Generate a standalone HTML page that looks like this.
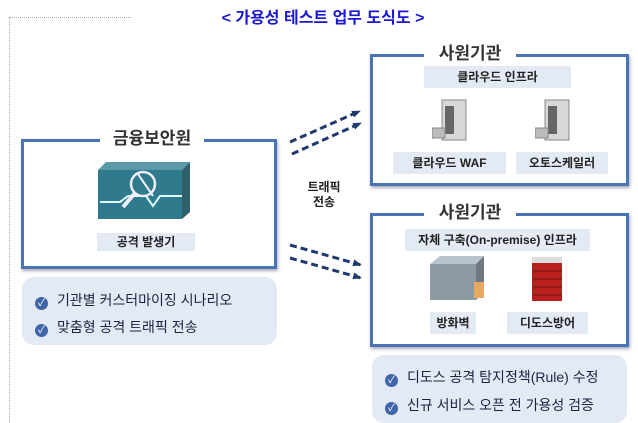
<!DOCTYPE html>
<html><head><meta charset="utf-8"><style>
body{margin:0;width:638px;height:423px;background:#fff;position:relative;overflow:hidden;font-family:"Liberation Sans","Noto Sans CJK KR",sans-serif;}
.a{position:absolute;}
.box{position:absolute;border:3px solid #4a74b4;box-shadow:1px 2px 3px #aab;}
.ttl{position:absolute;background:#fff;font-size:17px;color:#333;text-align:center;line-height:20px;font-weight:bold;}
.lbl{position:absolute;background:#e3eaf4;font-size:12px;font-weight:bold;color:#222;text-align:center;}
.bul{position:absolute;background:#e3eaf5;border-radius:12px;}
.bi{position:absolute;font-size:14px;color:#1a2440;}
.ck{display:inline-block;width:13px;height:13px;border-radius:50%;background:#3f66a8;color:#fff;font-size:10px;line-height:13px;text-align:center;margin-right:9px;vertical-align:-1px;}
</style></head><body>
<div class="a" style="left:9px;top:17px;width:122px;border-top:1px dotted #aaa"></div>
<div class="a" style="left:9px;top:17px;height:406px;border-left:1px dotted #aaa"></div>
<div class="a" style="left:0;width:646px;top:9px;text-align:center;font-size:16px;font-weight:bold;color:#1a1acc;line-height:20px">&lt; 가용성 테스트 업무 도식도 &gt;</div>

<div class="box" style="left:21px;top:139px;width:250px;height:124px"></div>
<div class="ttl" style="left:100px;top:129px;width:104px">금융보안원</div>
<svg class="a" style="left:98px;top:162px" width="96" height="60"><polygon points="0,8 8,0 92,0 84,8" fill="#5a99a8"/><polygon points="84,8 92,0 92,50 84,57" fill="#2f5f6a"/><rect x="0" y="8" width="84" height="49" fill="#2f7a8c"/><polyline points="2,40 22,40 30,34 48,34 55,44 62,34 84,34" fill="none" stroke="#dff" stroke-width="2"/><circle cx="45" cy="22" r="12" fill="none" stroke="#eef" stroke-width="2.5"/><line x1="37" y1="31" x2="25" y2="45" stroke="#eef" stroke-width="4"/><line x1="40" y1="12" x2="55" y2="34" stroke="#eef" stroke-width="2"/></svg>
<div class="lbl" style="left:97px;top:233px;width:98px;height:18px;line-height:18px">공격 발생기</div>

<div class="bul" style="left:22px;top:277px;width:255px;height:68px"></div>
<div class="bi" style="left:35px;top:290px"><span class="ck">✓</span>기관별 커스터마이징 시나리오</div>
<div class="bi" style="left:35px;top:317px"><span class="ck">✓</span>맞춤형 공격 트래픽 전송</div>

<svg class="a" style="left:0;top:0" width="638" height="423">
<defs><marker id="m" markerUnits="userSpaceOnUse" markerWidth="9" markerHeight="7" refX="8" refY="3.5" orient="auto"><path d="M0,0 L9,3.5 L0,7z" fill="#1f3a6e"/></marker></defs>
<g stroke="#1f3a6e" stroke-width="3" stroke-dasharray="7,4" marker-end="url(#m)">
<line x1="290" y1="142" x2="360" y2="111"/><line x1="292" y1="154" x2="361" y2="123"/>
<line x1="290" y1="245" x2="361" y2="265"/><line x1="290" y1="258" x2="361" y2="278"/>
</g></svg>
<div class="a" style="left:293px;top:180px;width:62px;text-align:center;font-size:12px;font-weight:bold;line-height:15px;color:#222">트래픽<br>전송</div>

<div class="box" style="left:370px;top:54px;width:253px;height:126px"></div>
<div class="ttl" style="left:424px;top:44px;width:92px">사원기관</div>
<div class="lbl" style="left:424px;top:66px;width:147px;height:22px;line-height:22px">클라우드 인프라</div>
<svg class="a" style="left:432px;top:98px" width="48" height="44"><rect x="10" y="2" width="24" height="40" fill="#d8d8d8" stroke="#888"/><rect x="13" y="8" width="9" height="28" fill="#666"/><rect x="0" y="30" width="13" height="10" fill="#bbb" stroke="#888"/></svg>
<svg class="a" style="left:535px;top:98px" width="48" height="44"><rect x="10" y="2" width="24" height="40" fill="#d8d8d8" stroke="#888"/><rect x="13" y="8" width="9" height="28" fill="#666"/><rect x="0" y="30" width="13" height="10" fill="#bbb" stroke="#888"/></svg>
<div class="lbl" style="left:393px;top:152px;width:113px;height:22px;line-height:22px">클라우드 WAF</div>
<div class="lbl" style="left:516px;top:152px;width:92px;height:22px;line-height:22px">오토스케일러</div>

<div class="box" style="left:370px;top:213px;width:253px;height:128px"></div>
<div class="ttl" style="left:424px;top:203px;width:92px">사원기관</div>
<div class="lbl" style="left:405px;top:229px;width:185px;height:22px;line-height:22px">자체 구축(On-premise) 인프라</div>
<svg class="a" style="left:430px;top:256px" width="60" height="46"><polygon points="0,8 10,0 54,0 46,8" fill="#b8c4cc"/><polygon points="46,8 54,0 54,36 46,44" fill="#6d7a84"/><rect x="0" y="8" width="46" height="36" fill="#8c9aa4"/><rect x="44" y="26" width="10" height="16" fill="#e8a860"/></svg>
<svg class="a" style="left:528px;top:257px" width="40" height="46"><rect x="4" y="0" width="30" height="6" fill="#ddd"/><rect x="4" y="6" width="30" height="38" fill="#b82020"/><g stroke="#7a1010"><line x1="4" y1="14" x2="34" y2="14"/><line x1="4" y1="22" x2="34" y2="22"/><line x1="4" y1="30" x2="34" y2="30"/><line x1="4" y1="38" x2="34" y2="38"/></g></svg>
<div class="lbl" style="left:430px;top:312px;width:46px;height:22px;line-height:22px">방화벽</div>
<div class="lbl" style="left:507px;top:312px;width:81px;height:22px;line-height:22px">디도스방어</div>

<div class="bul" style="left:372px;top:355px;width:255px;height:68px"></div>
<div class="bi" style="left:385px;top:367px"><span class="ck">✓</span>디도스 공격 탐지정책(Rule) 수정</div>
<div class="bi" style="left:385px;top:395px"><span class="ck">✓</span>신규 서비스 오픈 전 가용성 검증</div>
</body></html>
